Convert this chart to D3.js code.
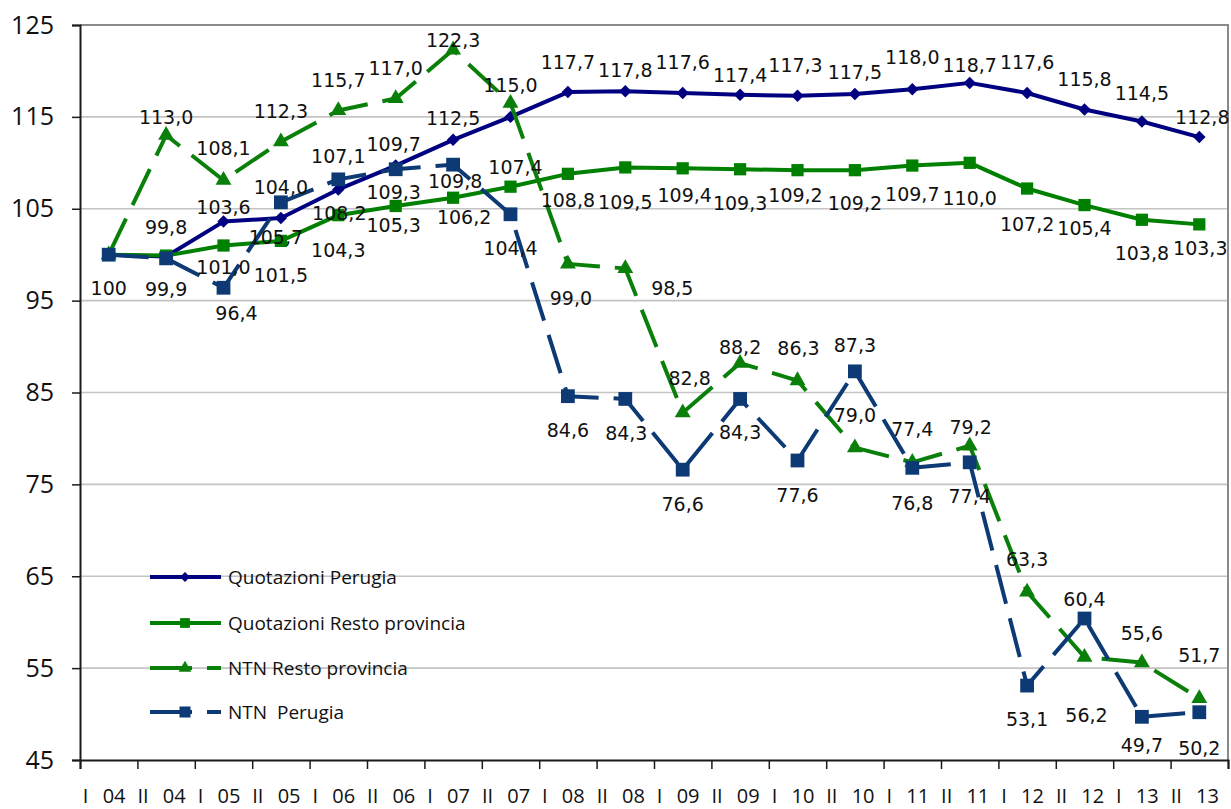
<!DOCTYPE html>
<html>
<head>
<meta charset="utf-8">
<script src="https://cdn.jsdelivr.net/npm/d3@7"></script>
<style>
  body { margin: 0; background: #fff; }
  svg { display: block; }
</style>
</head>
<body>
<svg id="chart" width="1231" height="809"></svg>
<script>
// Half-year periods (semester + year)
const periods = ["I 04","II 04","I 05","II 05","I 06","II 06","I 07","II 07","I 08","II 08",
                 "I 09","II 09","I 10","II 10","I 11","II 11","I 12","II 12","I 13","II 13"];

// Index values, base 100 = I 04
const quotazioniPerugia = [100,99.8,103.6,104.0,107.1,109.7,112.5,115.0,117.7,117.8,
                           117.6,117.4,117.3,117.5,118.0,118.7,117.6,115.8,114.5,112.8];
const quotazioniResto   = [100,99.9,101.0,101.5,104.3,105.3,106.2,107.4,108.8,109.5,
                           109.4,109.3,109.2,109.2,109.7,110.0,107.2,105.4,103.8,103.3];
const ntnResto          = [100,113.0,108.1,112.3,115.7,117.0,122.3,116.5,99.0,98.5,
                           82.8,88.2,86.3,79.0,77.4,79.2,63.3,56.2,55.6,51.7];
const ntnPerugia        = [100,99.6,96.4,105.7,108.2,109.3,109.8,104.4,84.6,84.3,
                           76.6,84.3,77.6,87.3,76.8,77.4,53.1,60.4,49.7,50.2];

const yTickValues = [45,55,65,75,85,95,105,115,125];
const seriesNames = ["Quotazioni Perugia","Quotazioni Resto provincia","NTN Resto provincia","NTN  Perugia"];

// Data-label placement (dx, dy from the marker centre); null = no label shown
const labelPlacement = {
  qp: [null,[0,-30],[0,-15],[0,-31],[0,-33],[-2,-22],[0,-22],[0,-32],[0,-30],[0,-21],
       [0,-31],[0,-20],[-2,-31],[0,-22],[0,-32],[0,-18],[0,-31],[0,-31],[0,-28],[3,-20]],
  qr: [[0,33],[0,33],[0,21],[0,34],[0,35],[-2,19],[11,19],[5,-20],[0,26],[0,35],
       [2,27],[0,34],[-2,25],[0,33],[0,28],[0,35],[0,35],[0,23],[0,33],[1,24]],
  nr: [null,[0,-18],[0,-32],[0,-31],[0,-30],[0,-31],[0,-10],null,[3,34],[47,20],
       [7,-35],[0,-16],[1,-33],[0,-33],[0,-33],[1,-19],[0,-33],[2,58],[0,-30],[0,-43]],
  np: [null,null,[13,25],[-5,35],[1,34],[-2,23],[2,16],[0,34],[0,34],[1,34],
       [0,34],[0,33],[0,35],[0,-26],[0,35],[0,34],[0,33],[0,-20],[0,28],[0,36]]
};

const svg = d3.select("#chart");
const plotLeft = 80, plotRight = 1228, plotTop = 25, plotBottom = 760;

const x = d3.scaleBand().domain(periods).range([plotLeft, plotRight]).paddingInner(0).paddingOuter(0);
const xEdge = d3.scaleLinear().domain([0, periods.length]).range([plotLeft, plotRight]);
const y = d3.scaleLinear().domain([45, 125]).range([plotBottom, plotTop]);
const cx = p => x(p) + x.bandwidth() / 2;

const it = d3.formatLocale({decimal: ",", thousands: ".", grouping: [3], currency: ["", "€"]});
const fmt1 = it.format(".1f"), fmt0 = it.format(".0f");

// Horizontal gridlines
svg.append("g").selectAll("line")
  .data(yTickValues.filter(v => v > 45 && v < 125))
  .join("line")
  .attr("x1", plotLeft).attr("x2", plotRight)
  .attr("y1", d => y(d)).attr("y2", d => y(d))
  .attr("stroke", "#c4c4c4").attr("stroke-width", 1.6);

// Plot-area frame (top and right)
svg.append("path")
  .attr("d", `M${plotLeft},${y(125)}H${plotRight}V${plotBottom}`)
  .attr("fill", "none").attr("stroke", "#8a8a8a").attr("stroke-width", 2);

// Y axis
const yAxis = svg.append("g").attr("transform", `translate(${plotLeft},0)`)
  .call(d3.axisLeft(y).tickValues(yTickValues).tickSize(8).tickPadding(18).tickFormat(d3.format("d")));
yAxis.select(".domain").attr("stroke", "#1a1a1a").attr("stroke-width", 2);
yAxis.selectAll(".tick line").attr("stroke", "#1a1a1a").attr("stroke-width", 1.5);
yAxis.selectAll(".tick text").attr("font-family", "'Open Sans', sans-serif").attr("font-size", 25)
  .attr("fill", "#111");

// X axis: ticks on the period boundaries
const xAxis = svg.append("g").attr("transform", `translate(0,${plotBottom})`)
  .call(d3.axisBottom(xEdge).tickValues(d3.range(periods.length + 1)).tickSize(9).tickFormat(""));
xAxis.select(".domain").attr("stroke", "#1a1a1a").attr("stroke-width", 2);
xAxis.selectAll(".tick line").attr("stroke", "#1a1a1a").attr("stroke-width", 1.5);

svg.append("g").selectAll("text")
  .data(periods)
  .join("text")
  .attr("x", d => cx(d) - 4.5)
  .attr("y", 803)
  .attr("text-anchor", "middle")
  .attr("font-family", "'Open Sans', sans-serif")
  .attr("font-size", 20)
  .attr("word-spacing", "9px")
  .attr("fill", "#111")
  .text(d => d);

// Series definitions
const series = [
  {key: "qp", name: seriesNames[0], values: quotazioniPerugia, color: "#000080", dash: null,  marker: "diamond", width: 4},
  {key: "qr", name: seriesNames[1], values: quotazioniResto,   color: "#008000", dash: null,  marker: "square",  width: 4},
  {key: "nr", name: seriesNames[2], values: ntnResto,          color: "#0a800a", dash: "40,15", marker: "triangle", width: 4},
  {key: "np", name: seriesNames[3], values: ntnPerugia,        color: "#0d3a74", dash: "40,15", marker: "bigsquare", width: 4}
];

const markerPath = {
  diamond:  d3.symbol(d3.symbolSquare, 78)(),
  square:   d3.symbol(d3.symbolSquare, 150)(),
  bigsquare:d3.symbol(d3.symbolSquare, 190)(),
  triangle: d3.symbol(d3.symbolTriangle, 110)()
};
const markerRotate = m => m === "diamond" ? " rotate(45)" : "";

const line = d3.line().x((d, i) => cx(periods[i])).y(d => y(d));

series.forEach(s => {
  const g = svg.append("g");
  g.append("path")
    .attr("d", line(s.values))
    .attr("fill", "none")
    .attr("stroke", s.color)
    .attr("stroke-width", s.width)
    .attr("stroke-linejoin", "round")
    .attr("stroke-dasharray", s.dash);
  g.selectAll("path.m")
    .data(s.values)
    .join("path")
    .attr("class", "m")
    .attr("d", markerPath[s.marker])
    .attr("transform", (d, i) => `translate(${cx(periods[i])},${y(d)})` + markerRotate(s.marker))
    .attr("fill", s.color);
});

// Data labels
const labels = svg.append("g")
  .attr("font-family", "'DejaVu Sans', sans-serif")
  .attr("font-size", 19)
  .attr("fill", "#111")
  .attr("text-anchor", "middle")
  .attr("dominant-baseline", "central");
series.forEach(s => {
  s.values.forEach((v, i) => {
    const pl = labelPlacement[s.key][i];
    if (!pl) return;
    labels.append("text")
      .attr("x", cx(periods[i]) + pl[0])
      .attr("y", y(v) + pl[1])
      .text(i === 0 ? fmt0(v) : fmt1(v));
  });
});

// Legend
const legendRows = [577, 623, 668, 712];
const legend = svg.append("g");
series.forEach((s, k) => {
  const row = legend.append("g").attr("transform", `translate(150,${legendRows[k]})`);
  row.append("line")
    .attr("x1", 0).attr("x2", 71)
    .attr("stroke", s.color).attr("stroke-width", s.width)
    .attr("stroke-dasharray", s.dash ? "42,15" : null);
  row.append("path")
    .attr("d", markerPath[s.marker])
    .attr("transform", `translate(35,0) scale(0.8)` + markerRotate(s.marker))
    .attr("fill", s.color);
  row.append("text")
    .attr("x", 78).attr("y", 0)
    .attr("dominant-baseline", "central")
    .attr("font-family", "'Open Sans', sans-serif")
    .attr("font-size", 19)
    .attr("fill", "#111")
    .style("white-space", "pre")
    .text(s.name);
});
</script>
</body>
</html>
